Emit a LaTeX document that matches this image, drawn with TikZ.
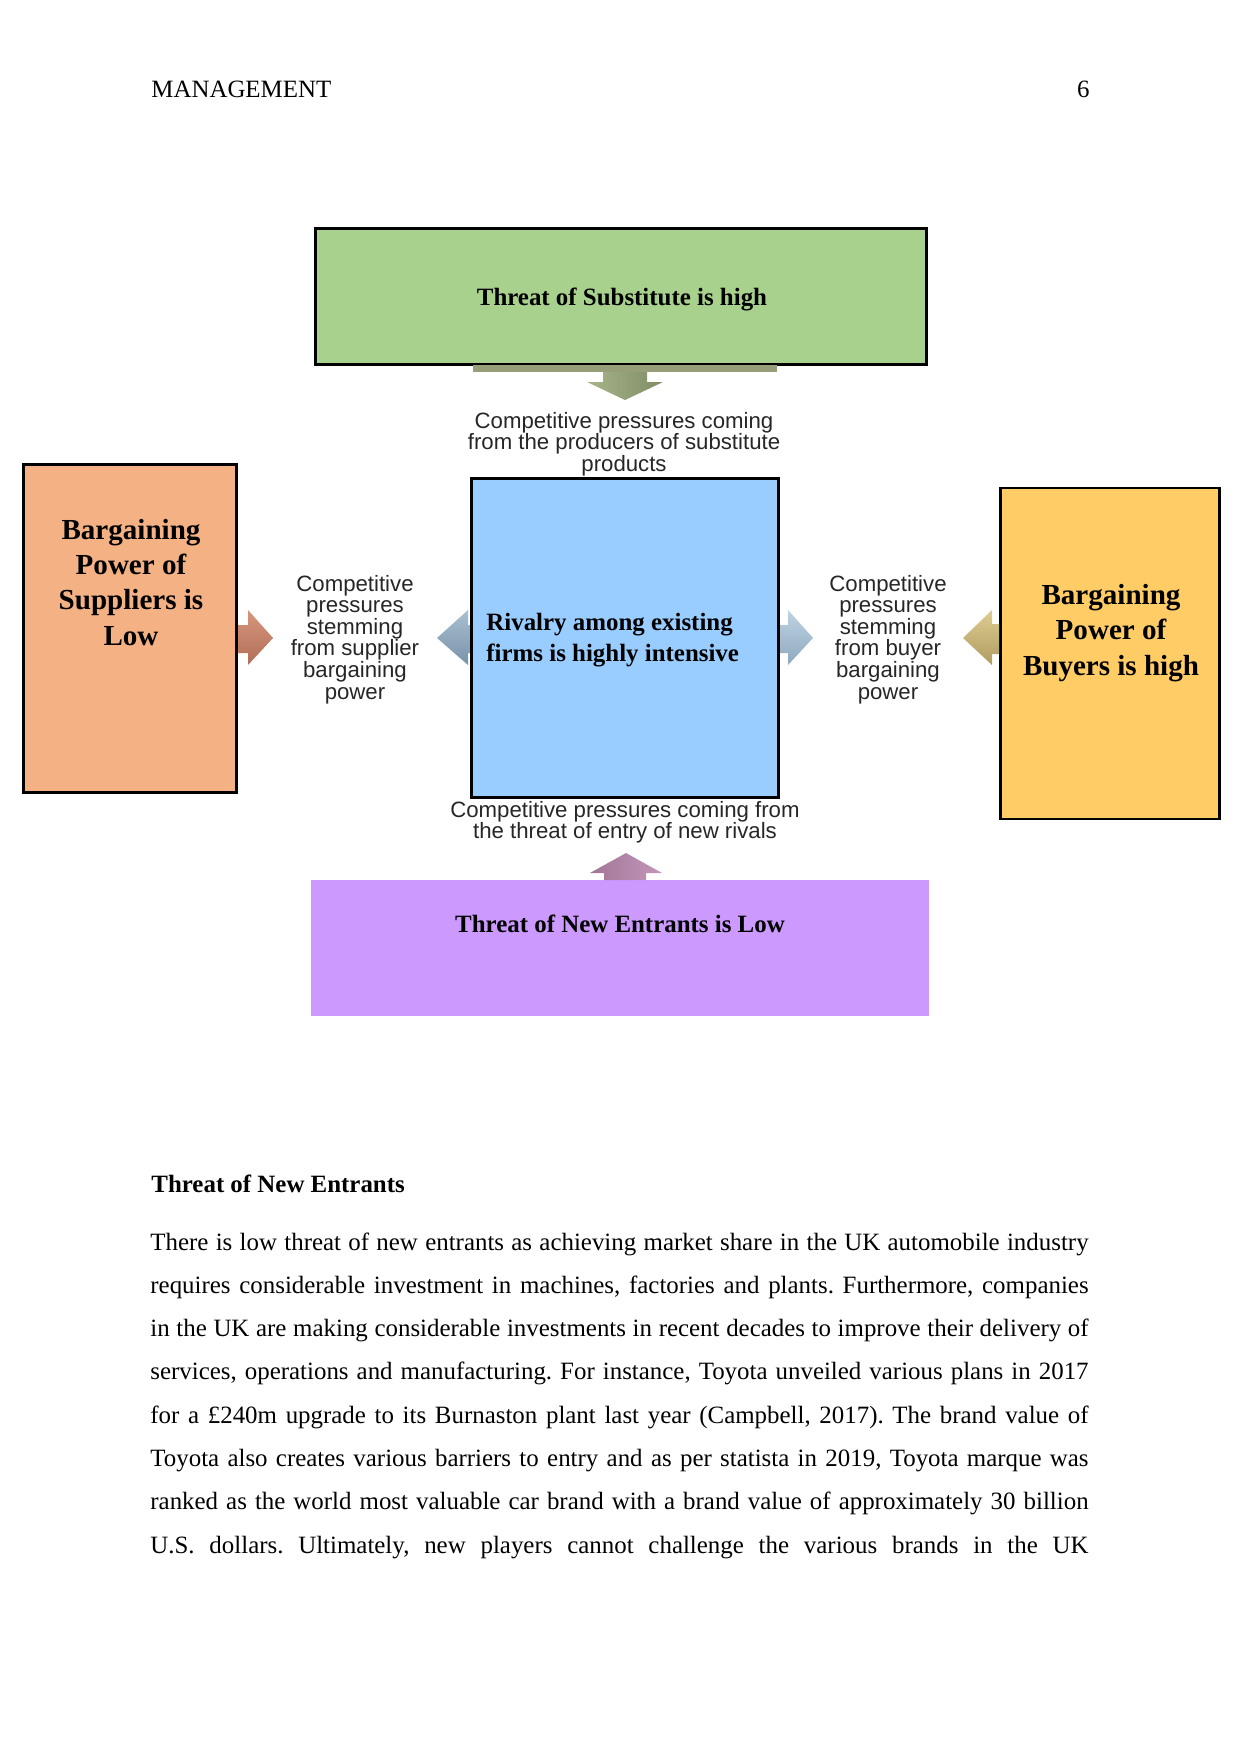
\documentclass[tikz,border=0pt]{standalone}
\usepackage{fontspec}
\setmainfont{Liberation Serif}
\setsansfont{Liberation Sans}
\usepackage{xcolor}
\usetikzlibrary{positioning}
\frenchspacing

\definecolor{subfill}{HTML}{A9D18E}
\definecolor{rivfill}{HTML}{99CCFF}
\definecolor{suppfill}{HTML}{F4B183}
\definecolor{buyfill}{HTML}{FFCC66}
\definecolor{entrfill}{HTML}{CC99FF}
\newcommand{\parline}[1]{\makebox[452pt][s]{#1}}
\newcommand{\tightlines}{\lineskiplimit=-5pt\relax}

\begin{document}
\begin{tikzpicture}[
  x=0.16933mm, y=-0.16933mm,
  force/.style={draw, line width=1.4pt, inner sep=0pt},
  pagetxt/.style={font=\fontsize{12}{14}\selectfont, inner sep=0pt},
  bigcap/.style={font=\bfseries\fontsize{14}{16.9}\selectfont, align=center, inner sep=0pt},
  smallcap/.style={font=\bfseries\fontsize{12}{14.5}\selectfont, align=left, inner sep=0pt},
  press/.style={font=\sffamily\fontsize{10.7}{10.4}\selectfont\tightlines, text=black!85, align=center, inner sep=0pt}
]
\useasboundingbox (0,0) rectangle (1241,1754);

% page header
\node[pagetxt, anchor=base west] (head) at (151,97) {MANAGEMENT};
\node[pagetxt, anchor=base east] (pnum) at (1090,97) {6};

% the five forces
\node[force, fill=subfill, minimum width=103.46mm, minimum height=23.03mm] (sub) at (621,296.5) {};
\node[force, fill=rivfill, minimum width=51.99mm, minimum height=54.02mm] (rival) at (625,638) {};
\node[force, fill=suppfill, minimum width=36.07mm, minimum height=55.54mm] (supp) at (130,628.5) {};
\node[force, fill=buyfill, minimum width=37.08mm, minimum height=56.05mm] (buy) at (1110,653.5) {};
\node[force, draw=none, fill=entrfill, minimum width=104.65mm, minimum height=23.03mm] (entr) at (620,948) {};

% multi-line texts sit on the baseline of their last line
\node[smallcap, anchor=base] (subtxt) at (622,305) {Threat of Substitute is high};
\node[smallcap, anchor=base west] (rivtxt) at (486,661) {Rivalry among existing\\firms is highly intensive};
\node[bigcap, anchor=base] (supptxt) at (131,645) {Bargaining\\Power of\\Suppliers is\\Low};
\node[bigcap, anchor=base] (buytxt) at (1111,675) {Bargaining\\Power of\\Buyers is high};
\node[smallcap, anchor=base] (entrtxt) at (620,932) {Threat of New Entrants is Low};

% block arrows
\fill[color={rgb,255:red,150;green,158;blue,122}] (473,365) rectangle (777,372);
\shade[left color={rgb,255:red,168;green,180;blue,138}, right color={rgb,255:red,128;green,140;blue,100}]
  (603,372) -- (647,372) -- (647,382) -- (663,382) -- (625,400) -- (587,382) -- (603,382) -- cycle;
\shade[top color={rgb,255:red,214;green,150;blue,124}, bottom color={rgb,255:red,178;green,110;blue,88}]
  (238,625) -- (248,625) -- (248,610) -- (273,638) -- (248,665) -- (248,653) -- (238,653) -- cycle;
\shade[top color={rgb,255:red,170;green,192;blue,210}, bottom color={rgb,255:red,120;green,146;blue,168}]
  (470,625) -- (468,625) -- (468,610) -- (437,638) -- (468,665) -- (468,653) -- (470,653) -- cycle;
\shade[top color={rgb,255:red,190;green,212;blue,228}, bottom color={rgb,255:red,142;green,168;blue,190}]
  (780,625) -- (788,625) -- (788,610) -- (813,638) -- (788,665) -- (788,653) -- (780,653) -- cycle;
\shade[top color={rgb,255:red,222;green,204;blue,144}, bottom color={rgb,255:red,176;green,156;blue,98}]
  (999,624) -- (992,624) -- (992,610) -- (963,638) -- (992,665) -- (992,654) -- (999,654) -- cycle;
\shade[left color={rgb,255:red,160;green,118;blue,150}, right color={rgb,255:red,196;green,150;blue,186}]
  (604,880) -- (604,873) -- (590,873) -- (626,853) -- (662,873) -- (646,873) -- (646,880) -- cycle;

% pressure labels
\node[press, anchor=base] (subpress) at (624,471.5) {Competitive pressures coming\\from the producers of substitute\\products};
\node[press, anchor=base] (supppress) at (355,699) {Competitive\\pressures\\stemming\\from supplier\\bargaining\\power};
\node[press, anchor=base] (buypress) at (888,699) {Competitive\\pressures\\stemming\\from buyer\\bargaining\\power};
\node[press, font=\sffamily\fontsize{10.7}{9.7}\selectfont\tightlines, anchor=base] (entrpress) at (625,838) {Competitive pressures coming from\\the threat of entry of new rivals};

% text below the figure
\node[pagetxt, font=\bfseries\fontsize{12}{14}\selectfont, anchor=base west] (sect) at (151,1192) {Threat of New Entrants};
\node[pagetxt, font=\fontsize{12}{20.85}\selectfont, align=left, anchor=base west] (body) at (150,1553) {%
\parline{There is low threat of new entrants as achieving market share in the UK automobile industry}\\
\parline{requires considerable investment in machines, factories and plants. Furthermore, companies}\\
\parline{in the UK are making considerable investments in recent decades to improve their delivery of}\\
\parline{services, operations and manufacturing. For instance, Toyota unveiled various plans in 2017}\\
\parline{for a £240m upgrade to its Burnaston plant last year (Campbell, 2017). The brand value of}\\
\parline{Toyota also creates various barriers to entry and as per statista in 2019, Toyota marque was}\\
\parline{ranked as the world most valuable car brand with a brand value of approximately 30 billion}\\
\parline{U.S. dollars. Ultimately, new players cannot challenge the various brands in the UK}};
\end{tikzpicture}
\end{document}
